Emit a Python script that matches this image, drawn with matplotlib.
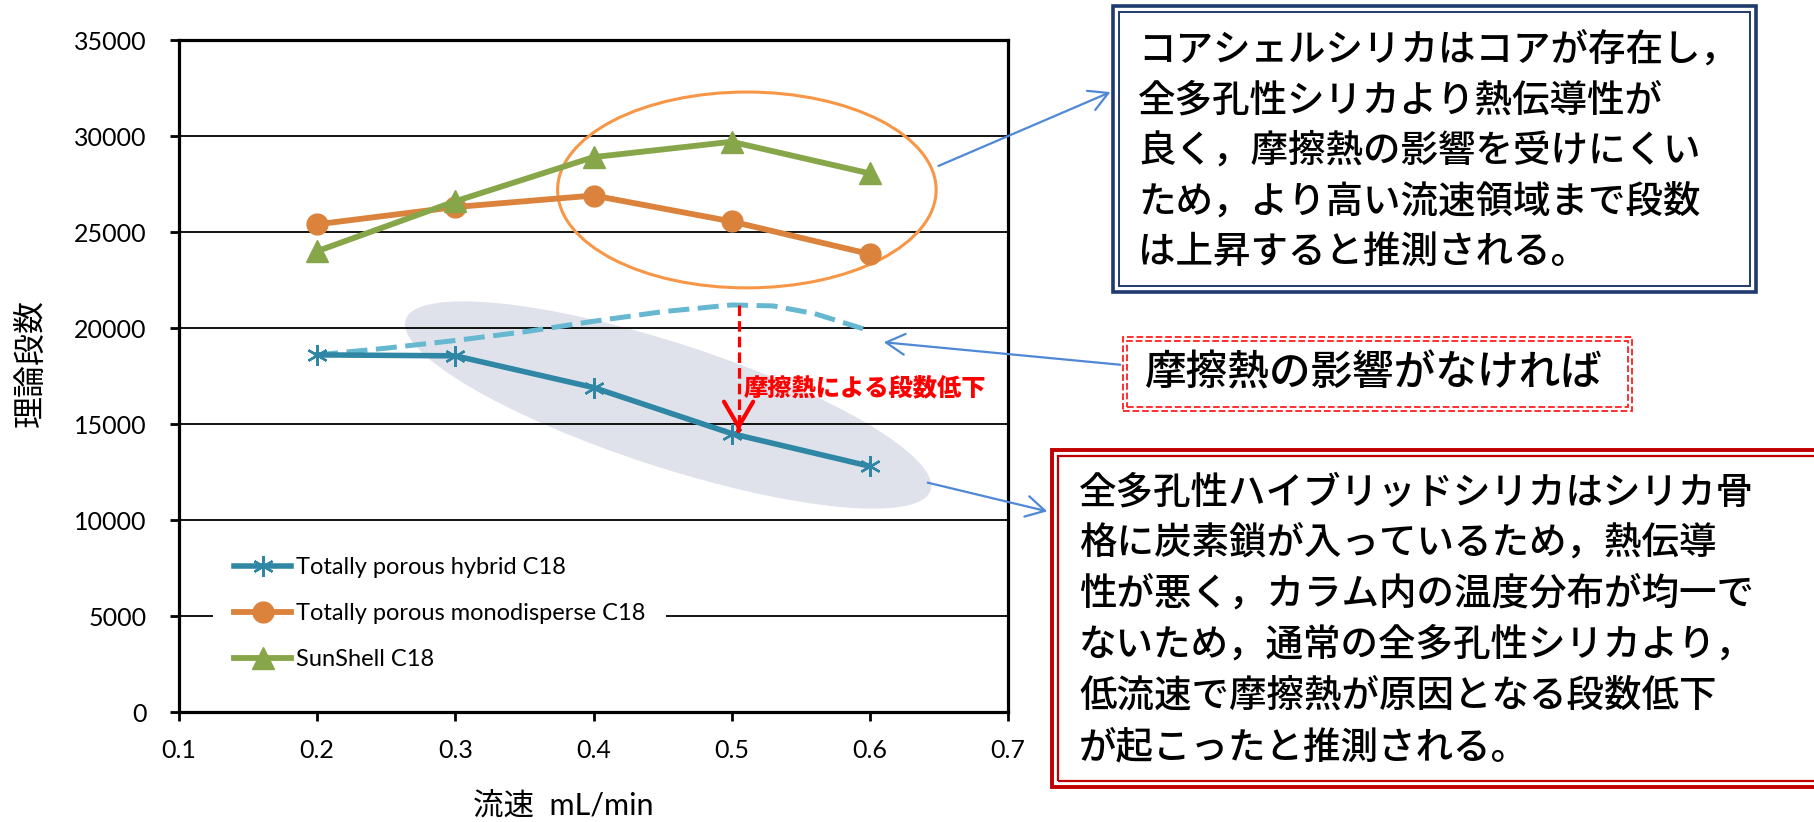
import matplotlib
matplotlib.use('Agg')
import matplotlib.pyplot as plt
from matplotlib.patches import Ellipse, Rectangle, FancyArrowPatch
from matplotlib import transforms

plt.rcParams['font.family'] = ['Lato', 'Noto Sans CJK JP', 'DejaVu Sans']

# plate numbers vs flow rate
flow = [0.2, 0.3, 0.4, 0.5, 0.6]
hybrid = [18600, 18550, 16900, 14500, 12800]
mono = [25400, 26300, 26900, 25550, 23850]
sunshell = [24000, 26600, 28900, 29700, 28050]

# hybrid column without frictional heating (hand drawn trend)
ideal_flow = [0.2, 0.25, 0.3, 0.35, 0.4, 0.45, 0.5, 0.53, 0.56, 0.6]
ideal_plates = [18600, 18950, 19350, 19800, 20350, 20850, 21200, 21150, 20750, 19850]

series_names = ['Totally porous hybrid C18', 'Totally porous monodisperse C18', 'SunShell C18']
xticks = [0.1, 0.2, 0.3, 0.4, 0.5, 0.6, 0.7]
yticks = [0, 5000, 10000, 15000, 20000, 25000, 30000, 35000]

drop_label = '摩擦熱による段数低下'
note_top = ['コアシェルシリカはコアが存在し，',
            '全多孔性シリカより熱伝導性が',
            '良く，摩擦熱の影響を受けにくい',
            'ため，より高い流速領域まで段数',
            'は上昇すると推測される。']
note_mid = '摩擦熱の影響がなければ'
note_bottom = ['全多孔性ハイブリッドシリカはシリカ骨',
               '格に炭素鎖が入っているため，熱伝導',
               '性が悪く，カラム内の温度分布が均一で',
               'ないため，通常の全多孔性シリカより，',
               '低流速で摩擦熱が原因となる段数低下',
               'が起こったと推測される。']

W, H = 1814, 822


def fx(x):
    return x / W


def fy(y):
    return 1 - y / H


fig = plt.figure(figsize=(W / 100, H / 100), dpi=100)
ax = fig.add_axes([179 / W, 1 - 712 / H, 829 / W, 672 / H])

teal = '#2F87A5'
orange = '#DB833C'
green = '#87A64A'
arrow_blue = '#4F88D6'
jp = ['Noto Sans CJK JP']

# highlight ellipse around the hybrid data (tilted, sized in inches)
tilt = fig.dpi_scale_trans + transforms.ScaledTranslation(0.454, 15990, ax.transData)
ax.add_patch(Ellipse((0, 0), 5.52, 1.24, angle=-18, transform=tilt,
                     facecolor='#DFE2EB', edgecolor='none', zorder=0.3))

ax.plot(flow, hybrid, color=teal, lw=4, marker=(6, 2, 0), ms=15, mew=1.7,
        mec=teal, label=series_names[0], zorder=3)
ax.plot(flow, mono, color=orange, lw=4.2, marker='o', ms=15, mec=orange,
        label=series_names[1], zorder=3)
ax.plot(flow, sunshell, color=green, lw=4.2, marker='^', ms=16, mec=green,
        label=series_names[2], zorder=3)

ax.plot(ideal_flow, ideal_plates, color='#66B8D1', lw=3.6, dashes=(4.2, 1.7),
        solid_capstyle='butt', zorder=2.5)

# drop caused by frictional heat
x_drop = 0.505
ax.plot([x_drop, x_drop], [max(ideal_plates), hybrid[3] + 400], color='#FF0000',
        lw=2.3, dashes=(3.3, 1.6), zorder=4)
ax.annotate('', xy=(x_drop, hybrid[3]), xytext=(x_drop, hybrid[3] + 300),
            arrowprops=dict(arrowstyle='->,head_length=0.6,head_width=0.35',
                            color='#FF0000', lw=3, mutation_scale=30), zorder=4)
ax.text(0.509, 16875, drop_label, color='#FF0000', fontsize=17.5,
        fontweight='heavy', family=jp, va='center', ha='left', zorder=5)

ax.add_patch(Ellipse((0.511, 27190), 0.274, 10200, facecolor='none',
                     edgecolor='#F79646', lw=2.2, zorder=2))

ax.set_xlim(0.1, 0.7)
ax.set_ylim(0, 35000)
ax.set_xticks(xticks)
ax.set_yticks(yticks)
ax.set_xticklabels([f'{t:.1f}' for t in xticks])
ax.set_yticklabels([str(t) for t in yticks])
ax.tick_params(direction='out', length=6.5, width=2, labelsize=18)
ax.tick_params(axis='y', pad=17)
ax.tick_params(axis='x', pad=13)
ax.set_axisbelow(True)
ax.yaxis.grid(True, color='black', lw=1.3)
for s in ax.spines.values():
    s.set_linewidth(2.3)

ax.set_ylabel('理論段数', fontsize=23, va='center')
ax.yaxis.set_label_coords(-0.1785, 0.519)
ax.set_xlabel('流速  mL/min', fontsize=22, va='center')
ax.xaxis.set_label_coords(0.463, -0.140)

leg = ax.legend(loc='upper left', bbox_to_anchor=(0.041, 0.262), borderaxespad=0,
                fontsize=17, frameon=True, fancybox=False, framealpha=1,
                handlelength=2.4, handletextpad=0.2, labelspacing=1.05, borderpad=0.9)
leg.get_frame().set_edgecolor('none')
leg.set_zorder(6)


def framed_box(x0, y0, x1, y1, color, lw_out, lw_in, inset, ls='-'):
    fig.add_artist(Rectangle((fx(x0), fy(y1)), fx(x1) - fx(x0), fy(y0) - fy(y1),
                             transform=fig.transFigure, facecolor='white',
                             edgecolor=color, lw=lw_out, ls=ls))
    fig.add_artist(Rectangle((fx(x0 + inset), fy(y1 - inset)),
                             fx(x1 - x0 - 2 * inset), fy(y0 + inset) - fy(y1 - inset),
                             transform=fig.transFigure, facecolor='none',
                             edgecolor=color, lw=lw_in, ls=ls))


def arrow(tail, head):
    fig.add_artist(FancyArrowPatch((fx(tail[0]), fy(tail[1])), (fx(head[0]), fy(head[1])),
                                   transform=fig.transFigure, color=arrow_blue, lw=1.6,
                                   arrowstyle='->,head_length=0.45,head_width=0.25',
                                   mutation_scale=30))


framed_box(1113, 6, 1756, 292, '#1F3A6E', 2.6, 1.4, 6)
framed_box(1123, 337, 1632, 411, '#FF2020', 1.3, 1.3, 4, ls='--')
framed_box(1052, 450, 1840, 787, '#C00000', 2.8, 1.6, 6)

for i, line in enumerate(note_top):
    fig.text(fx(1138), fy(50 + 50.5 * i), line, fontsize=27, va='center', ha='left',
             family=jp, fontweight='medium')
fig.text(fx(1145), fy(373), note_mid, fontsize=30, va='center', ha='left',
         family=jp, fontweight='medium')
for i, line in enumerate(note_bottom):
    fig.text(fx(1079), fy(492 + 51 * i), line, fontsize=27, va='center', ha='left',
             family=jp, fontweight='medium')

arrow((936, 167), (1113, 91))
arrow((1123, 365), (881, 342))
arrow((925, 482), (1050, 512))

fig.savefig('out.png', dpi=100)
